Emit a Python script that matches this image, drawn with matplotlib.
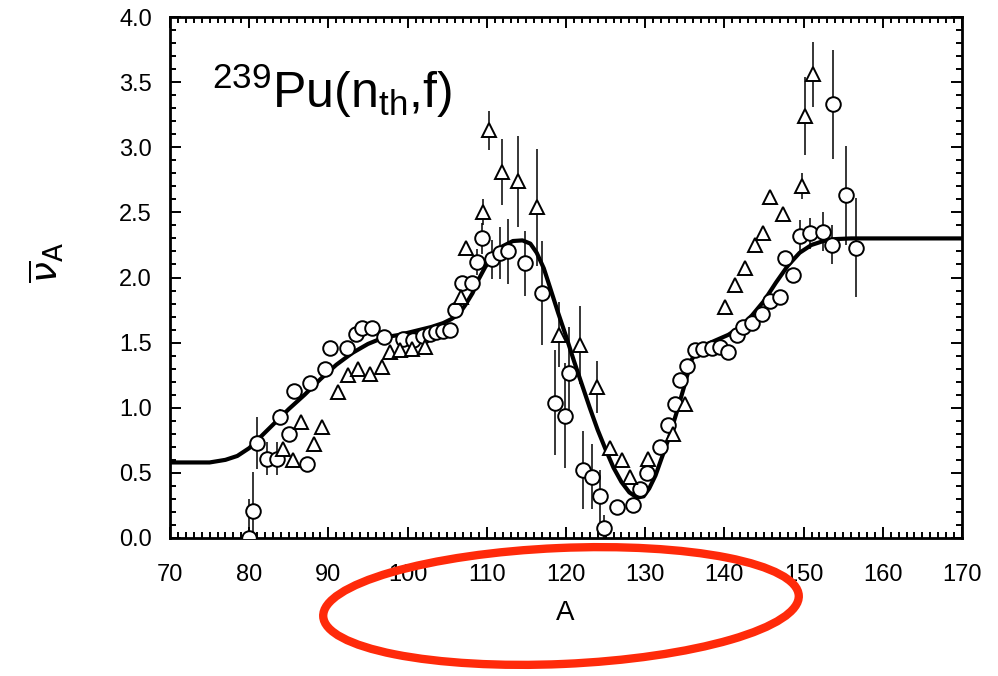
import matplotlib
matplotlib.use("Agg")
import matplotlib.pyplot as plt
from matplotlib.patches import Ellipse
from matplotlib.ticker import MultipleLocator

# ---------------- data ----------------
curve_A = [70, 75, 77, 78.5, 80, 81.5, 83, 85, 87, 89, 91, 93, 95, 97, 99, 101, 103,
           104.5, 105.5, 106.5, 107.3, 108.2, 109, 109.8, 110.8, 112, 113.3, 114.5,
           115.5, 116.3, 117.2, 118, 119, 120, 121, 122, 123, 124, 125, 126, 127, 128,
           129, 129.8, 130.5, 131.3, 132, 133, 134, 135, 135.8, 136.5, 137.5, 139,
           140.5, 142, 143.5, 145, 146.5, 148, 149.5, 151, 152.5, 154, 156, 170]
curve_nu = [0.58, 0.58, 0.60, 0.63, 0.69, 0.78, 0.87, 0.99, 1.10, 1.22, 1.33, 1.42, 1.49,
            1.54, 1.56, 1.59, 1.62, 1.65, 1.68, 1.72, 1.79, 1.88, 1.99, 2.08, 2.17, 2.24,
            2.28, 2.285, 2.26, 2.19, 2.07, 1.92, 1.73, 1.55, 1.36, 1.18, 1.00, 0.83, 0.68,
            0.54, 0.43, 0.35, 0.31, 0.32, 0.38, 0.48, 0.60, 0.77, 0.97, 1.18, 1.36, 1.44,
            1.48, 1.52, 1.56, 1.62, 1.71, 1.82, 1.96, 2.09, 2.19, 2.25, 2.28, 2.295, 2.30,
            2.30]

circ_A = [80.0, 80.5, 81.0, 82.2, 83.5, 83.9, 85.0, 85.6, 87.3, 87.7, 89.6, 90.2, 92.3,
          93.5, 94.3, 95.5, 97.0, 99.4, 100.7, 101.9, 102.8, 103.6, 104.5, 105.4, 106.0,
          106.9, 108.1, 108.8, 109.4, 110.7, 111.7, 112.7, 114.8, 117.0, 118.6, 119.9,
          120.4, 122.1, 123.3, 124.3, 124.8, 126.4, 128.5, 129.3, 130.2, 131.9, 132.9,
          133.8, 134.4, 135.3, 136.3, 137.3, 138.4, 139.4, 140.5, 141.6, 142.3, 143.5,
          144.7, 145.8, 147.0, 147.7, 148.7, 149.5, 150.8, 152.4, 153.6, 153.7, 155.4,
          156.6]
circ_nu = [0.00, 0.21, 0.73, 0.61, 0.61, 0.93, 0.80, 1.13, 0.57, 1.19, 1.30, 1.46, 1.46,
           1.57, 1.61, 1.61, 1.54, 1.53, 1.52, 1.55, 1.57, 1.58, 1.59, 1.60, 1.75,
           1.96, 1.96, 2.12, 2.30, 2.14, 2.19, 2.20, 2.11, 1.88, 1.04, 0.94,
           1.27, 0.52, 0.47, 0.32, 0.08, 0.24, 0.25, 0.38, 0.50, 0.70, 0.87,
           1.03, 1.21, 1.32, 1.44, 1.45, 1.46, 1.47, 1.43, 1.56, 1.62, 1.65,
           1.72, 1.82, 1.85, 2.15, 2.02, 2.32, 2.34, 2.35, 2.25, 3.33, 2.63,
           2.23]
circ_err = [0.30, 0.30, 0.20, 0.13, 0.13, 0.06, 0.04, 0.05, 0.05, 0.03, 0.03, 0.03, 0.03,
            0.0, 0.0, 0.0, 0.0, 0.0, 0.0, 0.0, 0.0, 0.0, 0.0, 0.0, 0.0,
            0.05, 0.05, 0.10, 0.12, 0.15, 0.20, 0.25, 0.25, 0.40, 0.40, 0.40,
            0.35, 0.30, 0.25, 0.20, 0.10, 0.0, 0.05, 0.0, 0.0, 0.0, 0.0,
            0.0, 0.0, 0.0, 0.0, 0.0, 0.0, 0.0, 0.0, 0.0, 0.0, 0.0,
            0.0, 0.03, 0.04, 0.05, 0.05, 0.12, 0.12, 0.15, 0.15, 0.42, 0.38,
            0.38]

tri_A = [84.3, 85.5, 86.5, 88.2, 89.2, 91.2, 92.5, 93.8, 95.2, 96.8, 97.8, 99.0, 100.5,
         102.2, 106.8, 107.4, 109.5, 110.3, 111.9, 113.9, 116.3, 119.1, 121.8, 123.9,
         125.6, 127.1, 128.1, 130.4, 133.5, 135.0, 140.1, 141.3, 142.6, 143.9, 144.9,
         145.8, 147.4, 149.8, 150.2, 151.2]
tri_nu = [0.68, 0.60, 0.89, 0.72, 0.85, 1.12, 1.25, 1.30, 1.26, 1.31, 1.43, 1.44, 1.45,
          1.47, 1.85, 2.23, 2.50, 3.13, 2.81, 2.74, 2.54, 1.56, 1.48, 1.16,
          0.69, 0.60, 0.47, 0.61, 0.80, 1.03, 1.77, 1.94, 2.07, 2.25, 2.34,
          2.62, 2.49, 2.70, 3.24, 3.56]
tri_err = [0.0, 0.0, 0.0, 0.0, 0.0, 0.0, 0.0, 0.0, 0.0, 0.0, 0.0, 0.0, 0.0,
           0.0, 0.0, 0.05, 0.10, 0.15, 0.25, 0.35, 0.45, 0.25, 0.30, 0.20,
           0.05, 0.0, 0.0, 0.0, 0.0, 0.0, 0.0, 0.0, 0.0, 0.0, 0.0,
           0.03, 0.04, 0.10, 0.30, 0.25]

x_ticks = [70, 80, 90, 100, 110, 120, 130, 140, 150, 160, 170]
y_ticks = [0.0, 0.5, 1.0, 1.5, 2.0, 2.5, 3.0, 3.5, 4.0]

# ---------------- figure ----------------
plt.rcParams['mathtext.fontset'] = 'custom'
plt.rcParams['mathtext.rm'] = 'Liberation Sans'
plt.rcParams['mathtext.it'] = 'Liberation Sans:italic'
plt.rcParams['mathtext.bf'] = 'Liberation Sans:bold'

W, H = 998, 676
fig = plt.figure(figsize=(W / 100, H / 100), dpi=100)
ax = fig.add_axes([170 / W, 1 - 538 / H, (962 - 170) / W, (538 - 17) / H])

tick_font = dict(family='Liberation Sans', size=17)

ax.plot(curve_A, curve_nu, color='black', lw=3.0, zorder=3, solid_capstyle='round')

ax.errorbar(circ_A, circ_nu, yerr=circ_err, fmt='o', ms=10.5, mfc='white', mec='black',
            mew=1.4, ecolor='black', elinewidth=1.1, capsize=0, zorder=4)
ax.errorbar(tri_A, tri_nu, yerr=tri_err, fmt='^', ms=10.5, mfc='white', mec='black',
            mew=1.4, ecolor='black', elinewidth=1.1, capsize=0, zorder=4)

ax.set_xlim(70, 170)
ax.set_ylim(0, 4.0)
ax.set_xticks(x_ticks)
ax.set_yticks(y_ticks)
ax.set_xticklabels([str(v) for v in x_ticks], **tick_font)
ax.set_yticklabels([f"{v:.1f}" for v in y_ticks], **tick_font)
ax.xaxis.set_minor_locator(MultipleLocator(1))
ax.yaxis.set_minor_locator(MultipleLocator(0.1))
ax.tick_params(which='both', direction='in', top=True, right=True, width=1.4, color='black')
ax.tick_params(which='major', length=8)
ax.tick_params(which='minor', length=4)
ax.tick_params(axis='x', which='major', pad=19)
ax.tick_params(axis='y', which='major', pad=13)
for s in ax.spines.values():
    s.set_linewidth(2.0)

# axis labels
fig.text(565 / W, 1 - 613 / H, 'A', ha='center', va='center',
         family='Liberation Sans', size=20)
fig.text(46 / W, 1 - 262 / H, r'$\overline{\nu}_{\mathrm{A}}$', rotation=90,
         ha='center', va='center', size=27, math_fontfamily='dejavusans')

# reaction label
fig.text(212 / W, 1 - 108 / H, r'$^{239}$Pu(n$_{\mathrm{th}}$,f)',
         ha='left', va='baseline', size=36, family='Liberation Sans',
         math_fontfamily='custom')

# red hand-drawn ellipse annotation
ov = fig.add_axes([0, 0, 1, 1], facecolor='none')
ov.set_xlim(0, W)
ov.set_ylim(0, H)
ov.axis('off')
ov.add_patch(Ellipse((561, H - 606), 476, 116, angle=2.5, fill=False,
                     edgecolor='#ff2a0a', lw=6))

fig.savefig('out.png', dpi=100)
